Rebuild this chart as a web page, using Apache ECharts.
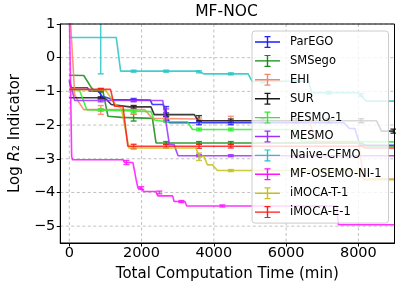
<!DOCTYPE html>
<html><head><meta charset="utf-8">
<script src="https://cdn.jsdelivr.net/npm/echarts@6/dist/echarts.min.js"></script>
<style>html,body{margin:0;padding:0;background:#fff}#c{width:404px;height:290px}</style>
</head><body><div id="c"></div>
<script>
const methods = ['ParEGO','SMSego','EHI','SUR','PESMO-1','MESMO','Naive-CFMO','MF-OSEMO-NI-1','iMOCA-T-1','iMOCA-E-1'];
const colors  = ['#1f1fff','#138a13','#fa8464','#1a1a1a','#28f028','#9b30ff','#25c4c4','#ff10ff','#c2c21a','#ff1a1a'];
const xTicks = [0,2000,4000,6000,8000];
const yTicks = [-5,-4,-3,-2,-1,0,1];

// step curves: time (min) and log R2 values
const parEGO_t = [0, 50, 500, 560, 800, 900, 1200, 2240, 2300, 2600, 2770, 7600, 7750, 7900, 8050, 9000];
const parEGO_v = [-0.70, -0.89, -0.89, -0.99, -0.99, -1.14, -1.24, -1.26, -1.39, -1.39, -1.93, -1.93, -2.10, -2.10, -2.60, -2.60];
const smsego_t = [0, 400, 610, 700, 930, 1070, 1440, 2300, 2400, 8100, 8200, 9000];
const smsego_v = [-0.52, -0.53, -0.89, -0.99, -0.99, -1.74, -1.77, -1.80, -2.53, -2.53, -2.62, -2.62];
const ehi_t = [0, 150, 250, 400, 2080, 2300, 3590, 3700, 6650, 6800, 8000, 8150, 9000];
const ehi_v = [1.7, -1.10, -1.30, -1.54, -1.54, -1.80, -1.82, -1.87, -1.87, -2.50, -2.50, -3.60, -3.60];
const sur_t = [0, 935, 1030, 1160, 1670, 2260, 2350, 3460, 3570, 8500, 8640, 9000];
const sur_v = [-1.19, -1.19, -1.24, -1.39, -1.46, -1.46, -1.69, -1.69, -1.87, -1.87, -2.18, -2.18];
const pesmo_t = [0, 280, 480, 1500, 2260, 2350, 2700, 3270, 3410, 6300, 6420, 9000];
const pesmo_v = [-0.94, -0.96, -1.54, -1.57, -1.60, -1.85, -1.90, -1.90, -2.13, -2.13, -2.48, -2.50];
const mesmo_t = [0, 60, 150, 2585, 2770, 2900, 3010, 9000];
const mesmo_v = [-0.65, -0.90, -1.27, -1.27, -2.58, -2.58, -2.91, -2.91];
const naive_t = [0, 1300, 1420, 3590, 3720, 4950, 5060, 6620, 6710, 7990, 8220, 9000];
const naive_v = [0.60, 0.60, -0.40, -0.40, -0.48, -0.48, -0.70, -0.70, -1.04, -1.04, -1.29, -1.29];
const osemo_t = [0, 65, 90, 1485, 1530, 1760, 1850, 1900, 2000, 2050, 2400, 2450, 2860, 2900, 3200, 3250, 7400, 7450, 9000];
const osemo_v = [1.5, -2.93, -3.03, -3.03, -3.11, -3.11, -3.62, -3.87, -3.87, -3.97, -3.97, -4.10, -4.10, -4.27, -4.27, -4.40, -4.40, -4.96, -4.96];
const imocaT_t = [0, 1000, 1300, 1440, 1650, 3500, 3600, 3730, 3820, 3960, 4100, 8000, 8150, 9000];
const imocaT_v = [-0.94, -0.96, -1.42, -1.50, -2.68, -2.68, -2.93, -2.93, -3.18, -3.18, -3.35, -3.35, -3.62, -3.62];
const imocaE_t = [0, 1140, 1250, 1485, 1620, 8100, 8200, 9000];
const imocaE_v = [-0.94, -0.94, -1.44, -1.44, -2.63, -2.63, -2.68, -2.68];

// error bars: [time, mean, half-width]
const parEGO_err = [[870,-1.10,0.12],[1780,-1.25,0.04],[2680,-1.60,0.15],[3590,-1.93,0.06],[4470,-1.93,0.06]];
const smsego_err = [[870,-0.97,0.05],[1780,-1.78,0.10],[2680,-2.53,0.04],[3590,-2.53,0.04],[4470,-2.53,0.04]];
const ehi_err = [[870,-1.55,0.13],[1780,-1.55,0.13],[2680,-1.80,0.06],[3590,-1.84,0.05],[4470,-1.84,0.10]];
const sur_err = [[870,-1.19,0.03],[1780,-1.46,0.04],[2680,-1.69,0.05],[3590,-1.80,0.08],[4470,-1.87,0.05],[5360,-1.87,0.06],[6280,-1.87,0.06],[7180,-1.87,0.06],[8080,-1.87,0.06],[8970,-2.18,0.06]];
const pesmo_err = [[870,-1.55,0.04],[1780,-1.58,0.04],[2680,-1.88,0.04],[3590,-2.13,0.04],[4470,-2.13,0.04]];
const mesmo_err = [[870,-1.27,0.04],[1780,-1.27,0.04],[2680,-1.70,0.18],[3590,-2.91,0.03],[4470,-2.91,0.03]];
const naive_err = [[870,0.60,1.08],[1780,-0.40,0.03],[2680,-0.40,0.03],[3590,-0.42,0.03],[4470,-0.48,0.03],[5360,-0.70,0.04],[6280,-0.70,0.03],[7180,-1.04,0.04],[8080,-1.10,0.04]];
const osemo_err = [[1580,-3.11,0.06],[1990,-3.87,0.04],[2490,-4.00,0.04],[3100,-4.27,0.03],[4235,-4.40,0.03]];
const imocaT_err = [[1780,-2.68,0.04],[3590,-2.94,0.11],[4470,-3.35,0.03]];
const imocaE_err = [[870,-0.94,0.03],[1780,-2.63,0.06],[2680,-2.63,0.05],[3590,-2.63,0.06],[4470,-2.63,0.05]];

const curves = [
  [parEGO_t, parEGO_v, parEGO_err],
  [smsego_t, smsego_v, smsego_err],
  [ehi_t, ehi_v, ehi_err],
  [sur_t, sur_v, sur_err],
  [pesmo_t, pesmo_v, pesmo_err],
  [mesmo_t, mesmo_v, mesmo_err],
  [naive_t, naive_v, naive_err],
  [osemo_t, osemo_v, osemo_err],
  [imocaT_t, imocaT_v, imocaT_err],
  [imocaE_t, imocaE_v, imocaE_err]
];

const FONT = 'DejaVu Sans';
const minus = v => String(v).replace('-', '\u2212');
const gridStyle = {stroke: '#b0b0b0', lineWidth: 0.8, lineDash: [3, 2.5]};
const series = [];
series.push({
  type: 'custom', name: '_gx', silent: true, z: 1, clip: false,
  data: xTicks.map(x => [x, 0]),
  renderItem: (params, api) => {
    const cs = params.coordSys;
    const p = api.coord([api.value(0), 0]);
    return {type: 'line', shape: {x1: p[0], y1: cs.y, x2: p[0], y2: cs.y + cs.height}, style: gridStyle};
  }
});
series.push({
  type: 'custom', name: '_gy', silent: true, z: 1, clip: false,
  data: yTicks.map(y => [0, y]),
  renderItem: (params, api) => {
    const cs = params.coordSys;
    const p = api.coord([0, api.value(1)]);
    return {type: 'line', shape: {x1: cs.x, y1: p[1], x2: cs.x + cs.width, y2: p[1]}, style: gridStyle};
  }
});
curves.forEach((c, i) => {
  const [ts, vs, errs] = c;
  series.push({
    type: 'line', name: methods[i], color: colors[i],
    data: ts.map((t, k) => [t, vs[k]]),
    showSymbol: false, symbol: 'none', clip: true, z: 2,
    lineStyle: {width: 1.6, opacity: 0.85}, emphasis: {disabled: true}
  });
  series.push({
    type: 'custom', name: methods[i], color: colors[i], clip: true, z: 2,
    data: errs.map(e => [e[0], e[1] - e[2], e[1] + e[2]]),
    renderItem: (params, api) => {
      const x = api.value(0);
      const p1 = api.coord([x, api.value(1)]);
      const p2 = api.coord([x, api.value(2)]);
      const st = {stroke: colors[i], lineWidth: 1.4, opacity: 0.85};
      return {type: 'group', children: [
        {type: 'line', shape: {x1: p1[0], y1: p1[1], x2: p2[0], y2: p2[1]}, style: st},
        {type: 'line', shape: {x1: p1[0] - 3, y1: p1[1], x2: p1[0] + 3, y2: p1[1]}, style: st},
        {type: 'line', shape: {x1: p2[0] - 3, y1: p2[1], x2: p2[0] + 3, y2: p2[1]}, style: st}
      ]};
    }
  });
});

const icon = 'path://M0,5.3L25,5.3L25,6.7L0,6.7Z M11.8,0L13.2,0L13.2,12L11.8,12Z M9.5,0L15.5,0L15.5,1.2L9.5,1.2Z M9.5,10.8L15.5,10.8L15.5,12L9.5,12Z';

const chart = echarts.init(document.getElementById('c'), null, {renderer: 'canvas'});
chart.setOption({
  animation: false,
  backgroundColor: '#fff',
  textStyle: {fontFamily: FONT},
  grid: {left: 59, right: 9.5, top: 24, bottom: 47, show: true, borderColor: '#000', borderWidth: 1, backgroundColor: 'transparent', z: 5},
  graphic: [{type: 'text', x: 226.5, y: 12, style: {text: 'MF-NOC', textAlign: 'center', textVerticalAlign: 'middle', font: '15.5px "DejaVu Sans"', fill: '#000'}}],
  legend: {
    left: 252, top: 31, orient: 'vertical', z: 20,
    padding: [5, 7, 5, 3], itemGap: 6.9, itemWidth: 25, itemHeight: 12,
    backgroundColor: 'rgba(255,255,255,0.8)', borderColor: '#cccccc', borderWidth: 1, borderRadius: 3,
    textStyle: {fontFamily: FONT, fontSize: 11.5, color: '#000', padding: [0, 0, 0, 5], lineHeight: 12},
    data: methods.map(m => ({name: m, icon: icon}))
  },
  xAxis: {
    type: 'value', min: -250, max: 9000, z: 6,
    name: 'Total Computation Time (min)', nameLocation: 'middle', nameGap: 23.5,
    nameTextStyle: {fontFamily: FONT, fontSize: 15, color: '#000'},
    axisLine: {show: true, onZero: false, lineStyle: {color: '#000', width: 1}},
    axisTick: {show: true, length: 3.5, customValues: xTicks, lineStyle: {color: '#000'}},
    axisLabel: {customValues: xTicks, margin: 3, fontFamily: FONT, fontSize: 14.5, color: '#000', formatter: v => minus(v)},
    splitLine: {show: false}
  },
  yAxis: {
    type: 'value', min: -5.5, max: 1, z: 6,
    name: 'Log {i|R}₂ Indicator', nameLocation: 'middle', nameGap: 36, nameRotate: 90,
    nameTextStyle: {fontFamily: FONT, fontSize: 15, color: '#000', rich: {i: {fontFamily: FONT, fontSize: 15, fontStyle: 'italic', color: '#000'}}},
    axisLine: {show: true, onZero: false, lineStyle: {color: '#000', width: 1}},
    axisTick: {show: true, length: 3.5, customValues: yTicks, lineStyle: {color: '#000'}},
    axisLabel: {customValues: yTicks, margin: 5, fontFamily: FONT, fontSize: 14.5, color: '#000', formatter: v => minus(v)},
    splitLine: {show: false}
  },
  series: series
});
</script>
</body></html>
